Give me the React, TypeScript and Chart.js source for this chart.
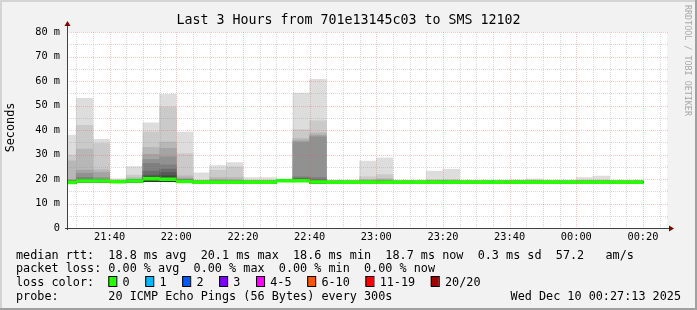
import React, { useEffect, useRef } from 'react';
import { Chart, registerables } from 'chart.js';

Chart.register(...registerables);

// ---------- data ----------
const slotStart = ['21:25','21:30','21:35','21:40','21:45','21:50','21:55','22:00','22:05','22:10','22:15','22:20','22:25','22:30','22:35','22:40','22:45','22:50','22:55','23:00','23:05','23:10','23:15','23:20','23:25','23:30','23:35','23:40','23:45','23:50','23:55','00:00','00:05','00:10','00:15'];

// median rtt (ms)
const median = [18.6, 19.2, 19.2, 18.9, 19.2, 20.1, 19.9, 19.0, 18.7, 18.7, 18.7, 18.7, 18.7, 19.3, 19.3, 18.8, 18.7, 18.7, 18.7, 18.7, 18.7, 18.7, 18.7, 18.7, 18.7, 18.7, 18.7, 18.7, 18.7, 18.7, 18.7, 18.7, 18.7, 18.7, 18.7];

// lowest ping of each step (ms)
const pingLow = [18.3, 18.8, 18.8, 18.5, 18.8, 19.0, 18.9, 18.6, 18.4, 18.4, 18.4, 18.4, 18.4, 18.9, 18.9, 18.4, 18.4, 18.4, 18.4, 18.4, 18.4, 18.4, 18.4, 18.4, 18.4, 18.4, 18.4, 18.4, 18.4, 18.4, 18.4, 18.4, 18.4, 18.4, 18.4];

// upper half of the sorted pings (ms): ping20 = highest ... ping11 = just above median
const ping20 = [37.9, 52.9, 36.2, 20.1, 25.1, 42.9, 54.6, 39.2, 22.5, 25.5, 26.7, 20.6, 20.6, 19.9, 55.1, 60.7, 19.1, 19.1, 27.3, 28.6, 19.1, 19.1, 23.2, 24.0, 19.1, 19.1, 19.1, 19.6, 20.0, 19.1, 19.1, 20.6, 21.2, 19.1, 19.1];
const ping19 = [29.8, 41.9, 34.5, 19.5, 21.6, 39.2, 49.4, 30.4, 19.2, 23.6, 25.0, 19.2, 19.2, 19.7, 40.2, 43.7, 19.1, 19.1, 20.9, 21.8, 19.1, 19.1, 19.7, 19.8, 19.1, 19.1, 19.1, 19.1, 19.2, 19.1, 19.1, 19.2, 19.3, 19.1, 19.1];
const ping18 = [27.4, 32.2, 23.8, 19.3, 20.5, 32.9, 35.1, 21.3, 19.1, 20.6, 20.6, 19.1, 19.1, 19.6, 36.5, 38.8, 19.1, 19.1, 19.8, 20.2, 19.1, 19.1, 19.3, 19.3, 19.1, 19.1, 19.1, 19.1, 19.1, 19.1, 19.1, 19.1, 19.1, 19.1, 19.1];
const ping17 = [19.8, 23.6, 22.7, 19.2, 19.9, 30.1, 32.5, 20.4, 19.1, 19.8, 19.6, 19.1, 19.1, 19.6, 35.6, 37.9, 19.1, 19.1, 19.3, 19.6, 19.1, 19.1, 19.1, 19.1, 19.1, 19.1, 19.1, 19.1, 19.1, 19.1, 19.1, 19.1, 19.1, 19.1, 19.1];
const ping16 = [19.5, 22.3, 20.6, 19.2, 19.8, 28.0, 29.0, 19.9, 19.1, 19.1, 19.1, 19.1, 19.1, 19.6, 35.1, 37.2, 19.1, 19.1, 19.1, 19.4, 19.1, 19.1, 19.1, 19.1, 19.1, 19.1, 19.1, 19.1, 19.1, 19.1, 19.1, 19.1, 19.1, 19.1, 19.1];
const ping15 = [19.3, 20.6, 19.9, 19.1, 19.7, 26.3, 25.7, 19.7, 19.1, 19.1, 19.1, 19.1, 19.1, 19.5, 20.9, 20.6, 19.1, 19.1, 19.1, 19.1, 19.1, 19.1, 19.1, 19.1, 19.1, 19.1, 19.1, 19.1, 19.1, 19.1, 19.1, 19.1, 19.1, 19.1, 19.1];
const ping14 = [19.2, 19.8, 19.7, 19.1, 19.6, 23.2, 24.0, 19.6, 19.1, 19.1, 19.1, 19.1, 19.1, 19.5, 20.3, 19.8, 19.1, 19.1, 19.1, 19.1, 19.1, 19.1, 19.1, 19.1, 19.1, 19.1, 19.1, 19.1, 19.1, 19.1, 19.1, 19.1, 19.1, 19.1, 19.1];
const ping13 = [19.1, 19.7, 19.6, 19.1, 19.6, 21.6, 22.7, 19.5, 19.1, 19.1, 19.1, 19.1, 19.1, 19.5, 20.0, 19.4, 19.1, 19.1, 19.1, 19.1, 19.1, 19.1, 19.1, 19.1, 19.1, 19.1, 19.1, 19.1, 19.1, 19.1, 19.1, 19.1, 19.1, 19.1, 19.1];
const ping12 = [19.0, 19.6, 19.5, 19.1, 19.5, 20.8, 21.3, 19.4, 19.1, 19.1, 19.1, 19.1, 19.1, 19.5, 19.8, 19.3, 19.1, 19.1, 19.1, 19.1, 19.1, 19.1, 19.1, 19.1, 19.1, 19.1, 19.1, 19.1, 19.1, 19.1, 19.1, 19.1, 19.1, 19.1, 19.1];
const ping11 = [19.0, 19.5, 19.4, 19.0, 19.5, 20.3, 20.6, 19.3, 19.0, 19.0, 19.0, 19.0, 19.0, 19.5, 19.7, 19.2, 19.0, 19.0, 19.0, 19.0, 19.0, 19.0, 19.0, 19.0, 19.0, 19.0, 19.0, 19.0, 19.0, 19.0, 19.0, 19.0, 19.0, 19.0, 19.0];

const xTickTimes = ['21:40', '22:00', '22:20', '22:40', '23:00', '23:20', '23:40', '00:00', '00:20'];
const viewStart = '21:27:13';
const viewHours = 3;

const titleText = 'Last 3 Hours from 701e13145c03 to SMS 12102';
const yTitle = 'Seconds';
const watermark = 'RRDTOOL / TOBI OETIKER';
const rttLine = 'median rtt:  18.8 ms avg  20.1 ms max  18.6 ms min  18.7 ms now  0.3 ms sd  57.2   am/s';
const lossLine = 'packet loss: 0.00 % avg  0.00 % max  0.00 % min  0.00 % now';
const lossColorTitle = 'loss color:';
const lossLabels = ['0', '1', '2', '3', '4-5', '6-10', '11-19', '20/20'];
const lossColors = ['#26ff00', '#00b8ff', '#0059ff', '#7e00ff', '#ff00ff', '#ff5500', '#ff0000', '#a10000'];
const probeLine = 'probe:       20 ICMP Echo Pings (56 Bytes) every 300s';
const stampText = 'Wed Dec 10 00:27:13 2025';

// ---------- helpers ----------
const MONO = '"DejaVu Sans Mono", monospace';
const smokeGreys = ['#dddddd', '#cacaca', '#b7b7b7', '#a4a4a4', '#919191', '#7e7e7e', '#6b6b6b', '#585858', '#454545', '#323232'];

function toMinutes(t: string): number {
  const p = t.split(':').map(Number);
  let h = p[0];
  if (h < 12) h += 24;
  return h * 60 + p[1] + (p[2] || 0) / 60 - 21 * 60;
}
const pad2 = (n: number) => (n < 10 ? '0' : '') + n;

const X_MIN = toMinutes(viewStart);
const X_MAX = X_MIN + viewHours * 60;
const xCenters = slotStart.map((s) => toMinutes(s) + 2.5);

const rrdPlugin: any = {
  id: 'rrdLook',
  beforeDraw(chart: any) {
    const { ctx, width, height, chartArea: a } = chart;
    ctx.save();
    ctx.fillStyle = '#f2f2f2';
    ctx.fillRect(0, 0, width, height);
    ctx.fillStyle = '#d4d4d4';
    ctx.fillRect(0, 0, width, 2);
    ctx.fillRect(0, 0, 2, height);
    ctx.fillStyle = '#a0a0a0';
    ctx.fillRect(0, height - 2, width, 2);
    ctx.fillRect(width - 2, 0, 2, height);
    ctx.fillStyle = '#ffffff';
    ctx.fillRect(a.left, a.top, a.right - a.left, a.bottom - a.top);
    ctx.restore();
  },
  afterDatasetsDraw(chart: any) {
    const { ctx, chartArea: a } = chart;
    const xs = chart.scales.x;
    const ys = chart.scales.y;
    ctx.save();
    ctx.lineWidth = 1;
    ctx.setLineDash([1, 1]);
    const hLine = (v: number, color: string) => {
      const y = Math.round(ys.getPixelForValue(v)) + 0.5;
      ctx.strokeStyle = color;
      ctx.beginPath();
      ctx.moveTo(a.left, y);
      ctx.lineTo(a.right + 1, y);
      ctx.stroke();
    };
    const vLine = (v: number, color: string) => {
      const x = Math.round(xs.getPixelForValue(v)) + 0.5;
      ctx.strokeStyle = color;
      ctx.beginPath();
      ctx.moveTo(x, a.top);
      ctx.lineTo(x, a.bottom);
      ctx.stroke();
    };
    const minorC = 'rgba(150,150,150,0.35)';
    const majorC = 'rgba(235,80,80,0.32)';
    for (let v = 5; v < 80; v += 10) hLine(v, minorC);
    for (let m = Math.ceil(X_MIN / 5) * 5; m < X_MAX; m += 5) if (m % 20 !== 0) vLine(m, minorC);
    for (let v = 10; v <= 80; v += 10) hLine(v, majorC);
    for (let m = Math.ceil(X_MIN / 20) * 20; m < X_MAX; m += 20) vLine(m, majorC);
    ctx.setLineDash([]);
    // axes
    const y0 = Math.round(ys.getPixelForValue(0)) + 0.5;
    const x0 = Math.round(a.left) + 0.5;
    ctx.strokeStyle = '#404040';
    ctx.beginPath();
    ctx.moveTo(a.left - 2, y0);
    ctx.lineTo(a.right + 4, y0);
    ctx.moveTo(x0, a.bottom + 2);
    ctx.lineTo(x0, a.top - 6);
    ctx.stroke();
    ctx.fillStyle = '#7f0000';
    ctx.beginPath();
    ctx.moveTo(a.right + 2, y0 - 3);
    ctx.lineTo(a.right + 7, y0);
    ctx.lineTo(a.right + 2, y0 + 3);
    ctx.closePath();
    ctx.fill();
    ctx.beginPath();
    ctx.moveTo(x0 - 3, a.top - 6);
    ctx.lineTo(x0, a.top - 11);
    ctx.lineTo(x0 + 3, a.top - 6);
    ctx.closePath();
    ctx.fill();
    ctx.restore();
  },
  afterDraw(chart: any) {
    const { ctx, width } = chart;
    ctx.save();
    ctx.fillStyle = '#000';
    ctx.textBaseline = 'alphabetic';
    // title
    ctx.font = '13.3px ' + MONO;
    ctx.textAlign = 'center';
    ctx.fillText(titleText, width / 2, 24.3);
    // y title
    ctx.font = '11.8px ' + MONO;
    ctx.save();
    ctx.translate(14, 127.5);
    ctx.rotate(-Math.PI / 2);
    ctx.textAlign = 'center';
    ctx.fillText(yTitle, 0, 0);
    ctx.restore();
    // watermark
    ctx.save();
    ctx.font = '8.4px ' + MONO;
    ctx.fillStyle = '#a8a8a8';
    ctx.translate(685, 5);
    ctx.rotate(Math.PI / 2);
    ctx.textAlign = 'left';
    ctx.fillText(watermark, 0, 0);
    ctx.restore();
    // legend
    ctx.font = '11.8px ' + MONO;
    ctx.textAlign = 'left';
    const lx = 16;
    ctx.fillText(rttLine, lx, 258.5);
    ctx.fillText(lossLine, lx, 272.3);
    ctx.fillText(lossColorTitle, lx, 286);
    const adv = ctx.measureText('0').width;
    let bx = lx + 13 * adv;
    for (let i = 0; i < lossLabels.length; i++) {
      ctx.fillStyle = lossColors[i];
      ctx.fillRect(bx, 276, 8, 10);
      ctx.strokeStyle = '#000';
      ctx.lineWidth = 1;
      ctx.strokeRect(bx + 0.5, 276.5, 8, 10);
      ctx.fillStyle = '#000';
      const tx = bx + 2 * adv;
      ctx.fillText(lossLabels[i], tx, 286);
      bx = tx + ctx.measureText(lossLabels[i]).width + 2.2 * adv;
    }
    ctx.fillText(probeLine, lx, 300);
    ctx.textAlign = 'right';
    ctx.fillText(stampText, 681, 300);
    ctx.restore();
  },
};

export default function App() {
  const ref = useRef<HTMLCanvasElement | null>(null);
  useEffect(() => {
    if (!ref.current) return;
    const uppers = [ping20, ping19, ping18, ping17, ping16, ping15, ping14, ping13, ping12, ping11];
    const smoke = uppers.map((arr, i) => ({
      label: 'smoke ' + (i + 1),
      data: arr.map((hi, j) => ({ x: xCenters[j], y: [pingLow[j], hi] })),
      backgroundColor: smokeGreys[i],
      order: 20 - i,
    }));
    const med = {
      label: 'median rtt',
      data: median.map((m, j) => ({ x: xCenters[j], y: [m - 0.6, m + 0.6] })),
      backgroundColor: lossColors[0],
      order: 0,
    };
    const tickVals = xTickTimes.map(toMinutes);
    const chart = new Chart(ref.current, {
      type: 'bar',
      data: { datasets: [med, ...smoke] as any },
      options: {
        animation: false,
        responsive: false,
        maintainAspectRatio: false,
        devicePixelRatio: 1,
        events: [],
        layout: { padding: { top: 32, right: 30, left: 0, bottom: 0 } },
        datasets: {
          bar: { grouped: false, barPercentage: 1, categoryPercentage: 1, borderWidth: 0, clip: 0 } as any,
        },
        plugins: { legend: { display: false }, tooltip: { enabled: false }, title: { display: false } },
        scales: {
          x: {
            type: 'linear',
            min: X_MIN,
            max: X_MAX,
            offset: false,
            grid: { display: false, drawTicks: false, offset: false } as any,
            border: { display: false },
            afterBuildTicks: (s: any) => {
              s.ticks = tickVals.map((v) => ({ value: v }));
            },
            afterFit: (s: any) => {
              s.height = 82;
            },
            ticks: {
              autoSkip: false,
              maxRotation: 0,
              minRotation: 0,
              padding: 3,
              color: '#000',
              font: { family: MONO, size: 10.3 },
              callback: (v: any) => {
                const t = Math.round(Number(v)) + 21 * 60;
                return pad2(Math.floor(t / 60) % 24) + ':' + pad2(t % 60);
              },
            },
          },
          y: {
            min: 0,
            max: 80,
            grid: { display: false, drawTicks: false } as any,
            border: { display: false },
            afterFit: (s: any) => {
              s.width = 67;
            },
            ticks: {
              stepSize: 10,
              padding: 7,
              color: '#000',
              font: { family: MONO, size: 10.3 },
              callback: (v: any) => (Number(v) === 0 ? '0' : v + ' m'),
            },
          },
        } as any,
      },
      plugins: [rrdPlugin],
    });
    return () => chart.destroy();
  }, []);
  return (
    <div style={{ position: 'absolute', left: 0, top: 0, width: 697, height: 310 }}>
      <canvas ref={ref} width={697} height={310} style={{ display: 'block', width: 697, height: 310 }} />
    </div>
  );
}
